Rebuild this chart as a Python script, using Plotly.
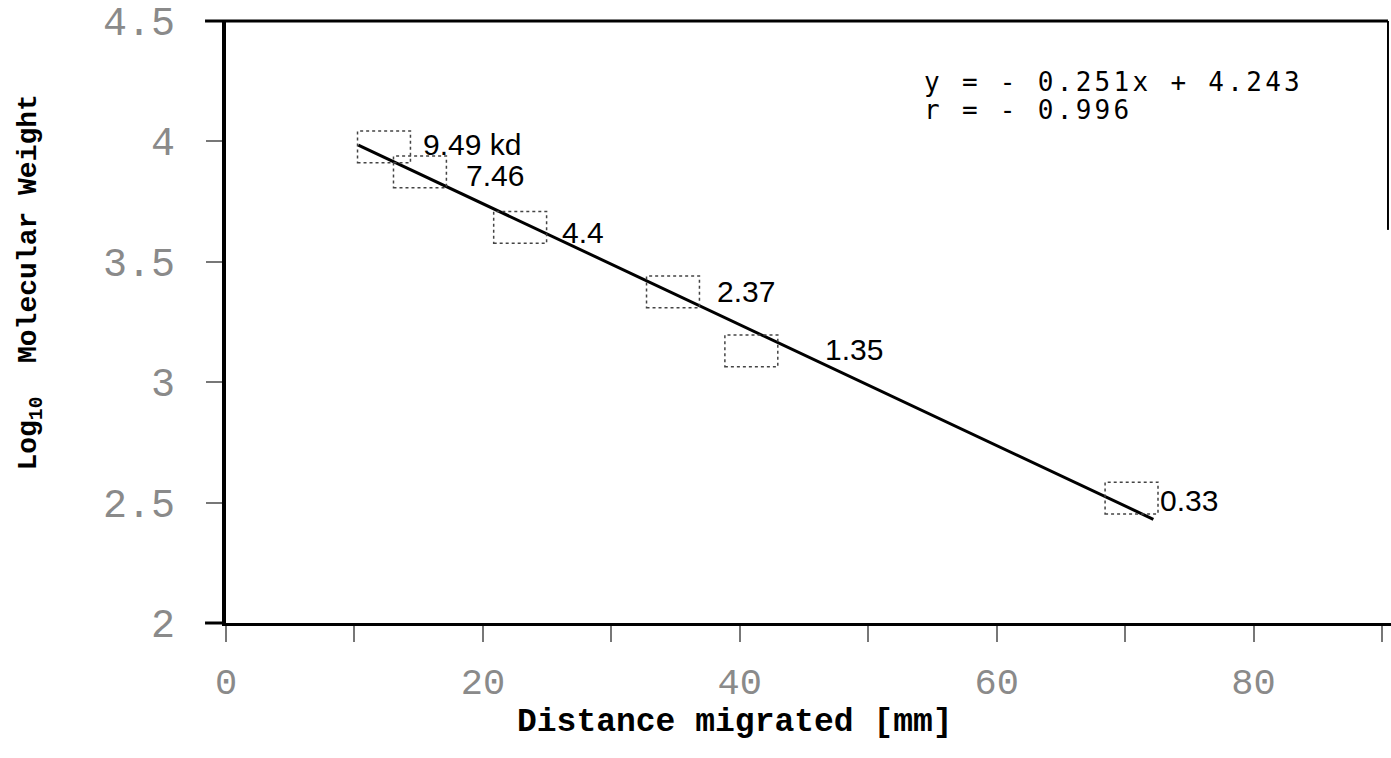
import plotly.graph_objects as go

# ---- data ----
distance_mm = [12.3, 15.1, 22.9, 34.8, 40.9, 70.5]
log_mw = [3.977, 3.873, 3.643, 3.375, 3.130, 2.519]
mw_labels = ["9.49 kd", "7.46", "4.4", "2.37", "1.35", "0.33"]

fit_slope_per_cm = -0.251
fit_intercept = 4.243
fit_r = -0.996
fit_x_extent_mm = [10.3, 72.2]

x_tick_values = [0, 20, 40, 60, 80]
x_tick_labels = ["0", "20", "40", "60", "80"]
x_minor_step = 10
y_tick_values = [2, 2.5, 3, 3.5, 4, 4.5]
y_tick_labels = ["2", "2.5", "3", "3.5", "4", "4.5"]

# ---- style ----
label_dx_px = [37, 44, 40, 42, 72, 26]
label_dy_px = [2, -4, -5, 0, 1, -2]
box_half_w = 2.06
box_half_h = 0.066
mono = "Liberation Mono"
sans = "Liberation Sans"
tick_grey = "#8a8a8a"

fig = go.Figure()

# fitted line
fit_y = [fit_intercept + fit_slope_per_cm / 10.0 * x for x in fit_x_extent_mm]
fig.add_trace(go.Scatter(x=fit_x_extent_mm, y=fit_y, mode="lines",
                         line=dict(color="black", width=3), showlegend=False,
                         hoverinfo="skip"))

# data points drawn as dotted rectangles
for d, l in zip(distance_mm, log_mw):
    fig.add_shape(type="rect", xref="x", yref="y",
                  x0=d - box_half_w, x1=d + box_half_w,
                  y0=l - box_half_h, y1=l + box_half_h,
                  line=dict(color="#444444", width=1.5, dash="dot"))

# invisible points for hover
fig.add_trace(go.Scatter(x=distance_mm, y=log_mw, mode="markers",
                         marker=dict(size=1, color="rgba(0,0,0,0)"),
                         showlegend=False, text=mw_labels))

# point labels
for d, l, t, dx, dy in zip(distance_mm, log_mw, mw_labels, label_dx_px, label_dy_px):
    fig.add_annotation(x=d, y=l, xref="x", yref="y", text=t, showarrow=False,
                       xanchor="left", yanchor="middle", xshift=dx, yshift=dy,
                       font=dict(family=sans, size=30, color="black"))

# regression text
eq1 = f"y = - {abs(fit_slope_per_cm):.3f}x + {fit_intercept:.3f}"
eq2 = f"r = - {abs(fit_r):.3f}"
for txt, yp in [(eq1, 0.8987), (eq2, 0.852)]:
    fig.add_annotation(x=0.5974, y=yp, xref="paper", yref="paper",
                       text=f'<span style="letter-spacing:3.3px">{txt}</span>',
                       showarrow=False, xanchor="left", yanchor="middle",
                       font=dict(family="DejaVu Sans Mono", size=26, color="black"))

# axis titles
fig.add_annotation(x=0.437, y=-0.165, xref="paper", yref="paper",
                   text="<b>Distance migrated [mm]</b>", showarrow=False,
                   xanchor="center", yanchor="middle",
                   font=dict(family=mono, size=33, color="black"))
fig.add_annotation(x=-0.168, y=0.566, xref="paper", yref="paper",
                   text="<b>Log<sub>10</sub>\u00a0\u00a0Molecular Weight</b>",
                   textangle=-90, showarrow=False,
                   xanchor="center", yanchor="middle",
                   font=dict(family=mono, size=28, color="black"))

# frame pieces
fig.add_shape(type="line", xref="paper", yref="paper", x0=-0.018, x1=0.9974,
              y0=1, y1=1, line=dict(color="black", width=3))
fig.add_shape(type="line", xref="paper", yref="paper", x0=0.9974, x1=0.9974,
              y0=1, y1=0.653, line=dict(color="black", width=2))
fig.add_shape(type="line", xref="paper", yref="paper", x0=-0.018, x1=0,
              y0=0, y1=0, line=dict(color="black", width=3))

fig.update_xaxes(range=[0, 90.7], showgrid=False, zeroline=False,
                 showline=True, linecolor="black", linewidth=3,
                 ticks="outside", ticklen=16, tickwidth=2, tickcolor="#777777",
                 tickvals=x_tick_values, ticktext=x_tick_labels,
                 minor=dict(ticks="outside", ticklen=16, tickwidth=2,
                            tickcolor="#777777", tick0=0, dtick=x_minor_step,
                            showgrid=False),
                 ticklabelstandoff=8, automargin=False,
                 tickfont=dict(family=mono, size=37, color=tick_grey))
fig.update_yaxes(range=[2, 4.5], showgrid=False, zeroline=False,
                 showline=True, linecolor="black", linewidth=4,
                 ticks="outside", ticklen=16, tickwidth=2, tickcolor="#777777",
                 tickvals=y_tick_values, ticktext=y_tick_labels,
                 ticklabelstandoff=23, automargin=False,
                 tickfont=dict(family=mono, size=40, color=tick_grey))

fig.update_layout(width=1391, height=758,
                  margin=dict(l=226, r=0, t=21, b=135),
                  paper_bgcolor="white", plot_bgcolor="white",
                  showlegend=False)

fig.write_html("out.html", config={"displayModeBar": False},
               post_script="document.body.style.margin='0';document.body.style.overflow='hidden';")
